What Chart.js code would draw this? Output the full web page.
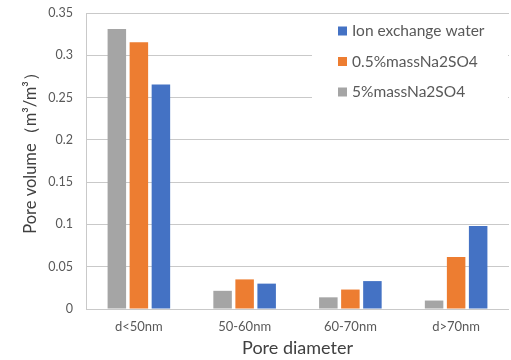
<!DOCTYPE html>
<html>
<head>
<meta charset="utf-8">
<script src="https://cdn.jsdelivr.net/npm/chart.js@4"></script>
<style>
  html, body { margin: 0; padding: 0; background: #fff; }
  #wrap { width: 511px; height: 360px; }
</style>
</head>
<body>
<div id="wrap"><canvas id="poreChart" width="511" height="360"></canvas></div>
<script>
// categories and values
const categories = ['d<50nm', '50-60nm', '60-70nm', 'd>70nm'];
const na2so4_5 = [0.331, 0.0215, 0.0138, 0.010];
const na2so4_05 = [0.3155, 0.035, 0.023, 0.0614];
const ionWater = [0.2655, 0.030, 0.033, 0.098];
const yTicks = [0, 0.05, 0.1, 0.15, 0.2, 0.25, 0.3, 0.35];
const yTitle = 'Pore volume（m³/m³）';

const FONT = 'Lato, "Open Sans", sans-serif';
const TXT = '#595959';

// legend inside the plot (top right, reversed order) and the y title
const extras = {
    id: 'extras',
    afterDraw(chart) {
        const ctx = chart.ctx;
        const area = chart.chartArea;
        ctx.save();
        ctx.fillStyle = '#fff';
        ctx.fillRect(312, area.top + 2, 196, 100);
        const sets = chart.data.datasets.slice().reverse();
        sets.forEach((ds, i) => {
            const y = 31 + i * 30.5;
            ctx.fillStyle = ds.backgroundColor;
            ctx.fillRect(338, y - 4.5, 9, 9);
            ctx.fillStyle = TXT;
            ctx.font = '15.5px ' + FONT;
            ctx.textBaseline = 'middle';
            ctx.textAlign = 'left';
            ctx.fillText(ds.label, 352, y);
        });
        // y title sits a little above the middle, as in the source
        ctx.translate(31, 149);
        ctx.rotate(-Math.PI / 2);
        ctx.fillStyle = '#404040';
        ctx.font = '16.5px ' + FONT;
        ctx.textAlign = 'center';
        ctx.textBaseline = 'middle';
        ctx.fillText(yTitle, 0, 0);
        ctx.restore();
    }
};

const ctx = document.getElementById('poreChart').getContext('2d');
new Chart(ctx, {
    type: 'bar',
    data: {
        labels: categories,
        datasets: [
            { label: '5%massNa2SO4', data: na2so4_5, backgroundColor: '#a5a5a5' },
            { label: '0.5%massNa2SO4', data: na2so4_05, backgroundColor: '#ed7d31' },
            { label: 'Ion exchange water', data: ionWater, backgroundColor: '#4472c4' }
        ]
    },
    options: {
        responsive: false,
        animation: false,
        layout: { padding: { top: 13, right: 2, left: 0, bottom: 0 } },
        datasets: {
            bar: { categoryPercentage: 0.625, barPercentage: 0.84, borderWidth: 0 }
        },
        scales: {
            x: {
                grid: { display: false, drawTicks: false },
                border: { display: false },
                ticks: { color: TXT, font: { family: FONT, size: 13 }, padding: 10 },
                title: {
                    display: true,
                    text: 'Pore diameter',
                    color: '#404040',
                    font: { family: FONT, size: 18 },
                    padding: { top: 0, bottom: 1 }
                },
                afterFit(s) { s.height = 51; }
            },
            y: {
                min: 0,
                max: 0.35,
                afterBuildTicks(s) { s.ticks = yTicks.map(v => ({ value: v })); },
                grid: { color: '#c9c9c9', lineWidth: 1, drawTicks: false },
                border: { display: true, color: '#c9c9c9' },
                ticks: {
                    color: TXT,
                    font: { family: FONT, size: 12.5 },
                    padding: 13,
                    callback: v => String(+v.toFixed(2))
                },
                afterFit(s) {
                    s.width = 86;
                    s.paddingTop = 0;
                    s.paddingBottom = 0;
                }
            }
        },
        plugins: {
            legend: { display: false },
            tooltip: { enabled: false }
        }
    },
    plugins: [extras]
});
</script>
</body>
</html>
